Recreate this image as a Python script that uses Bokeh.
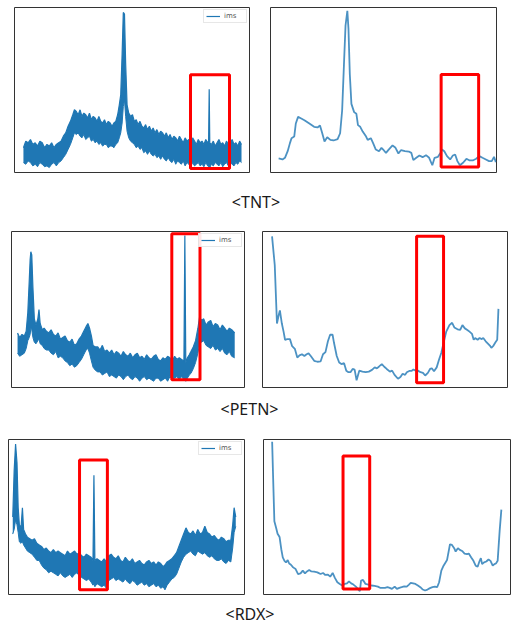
from bokeh.plotting import figure
from bokeh.layouts import column, row
from bokeh.models import Range1d, Legend, LegendItem
from bokeh.core.properties import value
from bokeh.embed import file_html
from bokeh.resources import INLINE

# ---------------- data (frame-relative units 0..100) ----------------
captions = ["<TNT>", "<PETN>", "<RDX>"]
legend_label = "ims"

# TNT - raw ims signal (upper / lower envelope of the noisy band)
tnt_ims_x = [3.8, 4.8, 5.8, 6.8, 7.8, 8.8, 9.8, 10.8, 11.8, 12.8, 13.8, 14.8, 15.8, 16.8, 17.8, 18.8, 19.8,
             20.8, 21.8, 22.8, 23.8, 24.8, 25.5, 26.3, 27.1, 27.9, 28.7, 29.5, 30.3, 31.1, 31.9, 32.7, 33.5,
             34.3, 35.1, 35.9, 36.7, 37.5, 38.3, 39.1, 39.9, 40.7, 41.5, 42.3, 43.1, 43.9, 44.6, 45.2, 45.8,
             46.3, 46.8, 47.3, 47.9, 48.6, 49.4, 50.2, 51, 51.8, 52.6, 53.4, 54.2, 55, 55.8, 56.6, 57.4, 58.2,
             59, 59.8, 60.6, 61.4, 62.2, 63, 63.8, 64.6, 65.4, 66.2, 67, 67.8, 68.6, 69.4, 70.2, 71, 71.8,
             72.6, 73.4, 74.2, 75, 75.8, 76.6, 77.4, 78.2, 79, 79.8, 80.6, 81.4, 82.2, 82.6, 82.85, 83.1,
             83.8, 84.6, 85.4, 86.2, 87, 87.8, 88.6, 89.4, 90.2, 91, 91.8, 92.6, 93.4, 94.2, 95, 95.8, 96.6]
tnt_ims_hi = [15, 19, 18, 20, 17, 18, 16, 19, 18, 15, 17, 16, 18, 15, 17, 18, 19,
              22, 24, 28, 31, 35, 38, 37, 35, 38, 34, 36, 35, 33, 36, 32, 34,
              33, 31, 34, 31, 30, 32, 29, 31, 30, 28, 30, 31, 35, 41, 47, 72,
              97, 96, 66, 41, 36, 34, 35, 31, 32, 29, 31, 28, 27, 29, 26, 28, 25,
              27, 24, 26, 23, 25, 24, 22, 24, 21, 23, 20, 22, 21, 19, 22, 20, 18,
              21, 19, 20, 18, 21, 19, 17, 20, 18, 19, 17, 20, 18, 19, 50.5, 18,
              17, 19, 16, 18, 20, 17, 18, 16, 19, 17, 18, 20, 17, 18, 16, 19, 17]
tnt_ims_lo = [6, 5, 7, 6, 4, 5, 3.5, 6, 5, 3.5, 4, 3, 5, 6, 4, 6, 7,
              9, 11, 14, 17, 21, 24, 23, 24, 22, 21, 23, 20, 21, 22, 19, 20,
              18, 19, 17, 18, 16, 17, 17, 15, 16, 16, 15, 17, 18, 21, 24, 30,
              40, 44, 34, 25, 21, 19, 18, 17, 15, 16, 14, 15, 12, 13, 11, 13, 11,
              10, 11, 9, 10, 8, 10, 8, 7, 9, 7, 6, 8, 5, 7, 6, 5, 7,
              4, 6, 5, 3.5, 6, 4, 5, 6, 4, 5, 3.5, 6, 4, 3.5, 4, 3,
              5, 4, 6, 5, 4, 6, 3.5, 5, 6, 4, 6, 5, 4, 6, 5, 7, 6]
# TNT - smoothed signal
tnt_sm_x = [3.6, 5.3, 6.4, 7.6, 8.6, 9.3, 10.5, 11.2, 12.2, 13.6, 15.0, 17.2, 19.3, 20.8, 21.9, 22.9, 23.9,
            25.1, 26.5, 27.9, 29.7, 30.8, 31.7, 32.5, 33.2, 34.0, 34.5, 35.1, 35.8, 37.0, 38.0, 38.7, 39.7,
            40.8, 42.3, 43.0, 44.4, 45.4, 46.6, 48.0, 49.1, 50.1, 51.1, 52.3, 54.0, 55.2, 56.6, 57.7, 59.5,
            61.2, 62.3, 63.2, 64.5, 65.9, 67.3, 68.8, 70.2, 71.6, 72.6, 74.1, 75.2, 75.9, 76.9, 78.1, 79.5,
            80.7, 81.7, 82.7, 83.8, 85.2, 86.7, 88.1, 89.5, 91.0, 92.4, 93.8, 95.3, 96.7, 97.9, 98.9, 99.7]
tnt_sm_y = [8.5, 7.9, 8.9, 12.9, 17.8, 20.8, 21.8, 29.7, 33.7, 32.7, 31.7, 29.7, 27.7, 27.3, 28.5, 23.8, 18.8,
            21.4, 19.8, 19.4, 20.2, 23.8, 37.6, 65.3, 89.1, 98.0, 87.1, 59.4, 41.6, 36.6, 35.6, 28.7, 27.7,
            24.8, 21.8, 19.8, 20.8, 17.8, 13.9, 12.9, 14.9, 13.5, 11.9, 13.9, 16.4, 15.2, 11.5, 13.5, 12.9,
            12.7, 11.9, 7.5, 8.9, 10.3, 9.3, 10.5, 8.9, 4.4, 8.9, 9.5, 11.9, 13.9, 12.9, 9.9, 7.9,
            10.3, 10.9, 6.9, 4.4, 5.9, 8.3, 7.3, 7.3, 8.3, 9.9, 8.9, 7.9, 6.9, 6.9, 9.5, 6.3]
tnt_ims_box = [74.9, 91.5, 2.4, 59.2]      # x0, x1, y0, y1
tnt_sm_box = [75.5, 92.1, 3.4, 59.4]

# PETN - raw ims signal
petn_ims_x = [2.6, 3.5, 4.5, 5.5, 6.3, 7.0, 7.6, 8.0, 8.3, 8.7, 9.2, 9.8, 10.5, 11.3, 11.8, 12.3, 13.2, 14,
              15, 16, 17, 18, 19, 20, 21, 22, 23, 24, 25, 26, 27, 28, 29, 30, 31, 32, 32.8, 33.5, 34.3, 35,
              36, 37, 38, 39, 40, 41, 42, 43, 44, 45, 46, 47, 48, 49, 50, 51, 52, 53, 54, 55, 56, 57, 58, 59,
              60, 61, 62, 63, 64, 65, 66, 67, 68, 69, 70, 71, 72, 73, 74.0, 74.4, 74.8, 75.5, 76.3, 77, 78,
              79, 80, 80.7, 81.5, 82.5, 83.5, 84.5, 85.5, 86.5, 87.5, 88.5, 89.5, 90.5, 91.5, 92.5, 93.5,
              94.5, 95.8]
petn_ims_hi = [35, 32, 34, 33, 36, 48, 68, 82, 87, 85, 64, 44, 40, 44, 50, 41, 37, 38,
               36, 35, 37, 34, 33, 35, 31, 32, 33, 30, 29, 31, 27, 28, 31, 33, 36, 39, 41, 38, 33, 27,
               26, 26, 24, 27, 23, 24, 22, 24, 21, 23, 22, 20, 23, 21, 20, 22, 19, 21, 22, 19, 20, 18, 21, 19,
               18, 20, 21, 18, 17, 19, 18, 20, 19, 17, 20, 18, 19, 18, 17, 97.5, 16, 19, 21, 23, 26,
               30, 38, 45, 43, 44, 40, 42, 43, 39, 41, 40, 37, 40, 38, 36, 38,
               37, 35]
petn_ims_lo = [22, 20, 21, 22, 25, 30, 32, 34, 38, 37, 32, 29, 28, 30, 31, 28, 27, 25,
               24, 24, 22, 21, 23, 19, 20, 19, 17, 16, 14, 15, 13, 14, 16, 18, 21, 24, 25, 22, 17, 13,
               11, 10, 10, 8, 9, 10, 7, 8, 7, 6, 8, 7, 5, 7, 8, 6, 5, 7, 6, 4, 6, 7, 5, 6,
               5, 4, 6, 6, 4, 5, 6, 4, 7, 5, 6, 7, 5, 7, 5, 5, 4, 6, 8, 9, 12,
               16, 22, 28, 29, 30, 27, 26, 25, 27, 24, 25, 23, 25, 22, 21, 23,
               20, 19]
# PETN - smoothed signal
petn_sm_x = [3.9, 5.0, 5.9, 6.6, 7.1, 7.9, 8.6, 9.2, 10.1, 11.2, 12.1, 13.2, 14.2, 15.1, 16.1, 17.1, 18.0,
             18.8, 19.7, 21.1, 22.4, 23.7, 24.7, 25.7, 26.7, 27.6, 28.6, 29.2, 30.3, 31.3, 32.2, 33.3, 34.2,
             35.1, 35.9, 36.8, 37.6, 38.4, 39.5, 40.8, 42.1, 43.4, 44.7, 45.8, 46.7, 47.6, 48.7, 49.7, 50.7,
             52.0, 52.9, 53.9, 55.3, 56.3, 57.2, 58.2, 58.9, 59.9, 60.8, 61.6, 62.5, 63.4, 64.5, 65.5, 66.4,
             67.5, 68.4, 69.1, 70.0, 71.1, 72.1, 73.0, 73.9, 75.0, 76.3, 77.4, 78.3, 79.6, 80.7, 81.6, 82.6,
             83.6, 84.5, 85.5, 86.2, 86.8, 87.8, 88.6, 89.5, 90.1, 91.1, 91.8, 92.8, 93.4, 94.3, 95.1, 95.8,
             96.3]
petn_sm_y = [96.9, 78.5, 41.0, 46.3, 49.4, 41.0, 35.8, 30.6, 31.0, 31.0, 26.5, 24.8, 19.2, 20.6, 21.3, 20.2,
             21.3, 21.9, 20.2, 17.1, 16.5, 16.7, 21.3, 22.7, 29.6, 33.8, 33.8, 28.5, 20.2, 16.0, 15.0, 15.6,
             10.8, 9.8, 9.8, 11.9, 11.5, 4.6, 10.8, 10.2, 9.8, 10.2, 11.3, 12.9, 12.3, 13.5, 15.0, 13.3, 11.9,
             10.2, 10.8, 8.1, 5.6, 6.7, 8.8, 8.1, 9.8, 10.6, 10.6, 11.5, 10.8, 10.8, 9.8, 9.4, 7.7,
             9.4, 11.9, 12.3, 10.4, 12.9, 18.1, 22.3, 28.5, 35.8, 40.0, 41.5, 38.5, 37.3, 36.9, 40.0, 37.9,
             36.9, 35.8, 34.4, 30.6, 31.7, 30.6, 31.7, 31.0, 31.7, 29.6, 28.5, 26.9, 25.4, 26.9, 29.0, 30.6,
             50.4]
petn_ims_box = [68.8, 80.9, 5.0, 98.5]
petn_sm_box = [62.9, 73.9, 3.1, 96.9]

# RDX - raw ims signal
rdx_ims_x = [1.8, 2.4, 3.0, 3.6, 4.1, 4.6, 5.3, 5.9, 6.4, 7.2, 8, 9, 10, 11, 12, 13, 14, 15, 16, 17, 18, 19,
             20, 21, 22, 23, 24, 25, 26, 27, 28, 29, 30, 31, 32, 33, 34, 35, 35.8, 36.2, 36.6, 37.5, 38.5,
             39.5, 40.5, 41.5, 42.5, 43.5, 44.5, 45.5, 46.5, 47.5, 48.5, 49.5, 50.5, 51.5, 52.5, 53.5, 54.5,
             55.5, 56.5, 57.5, 58.5, 59.5, 60.5, 61.5, 62.5, 63.5, 64.5, 65.5, 66.3, 67.2, 68.2, 69.2, 70.2,
             71.2, 72.2, 73.2, 74.2, 75.2, 76.2, 77.2, 78.2, 79.2, 80.2, 81.2, 82.2, 83.2, 84.2, 85.2, 86.2,
             87.2, 88.2, 89.2, 90.2, 91.2, 92.2, 93.2, 94.2, 95.0, 95.6, 96.3]
rdx_ims_hi = [50, 80, 97, 85, 56, 45, 43, 56, 42, 39, 37, 36, 35, 36, 33, 32, 31, 29, 30, 28, 27, 29,
              27, 28, 27, 26, 25, 28, 26, 27, 28, 26, 27, 25, 24, 26, 25, 24, 22, 77, 22, 23, 22,
              21, 23, 21, 25, 26, 24, 23, 25, 22, 21, 24, 22, 21, 23, 20, 21,
              22, 20, 19, 21, 22, 20, 21, 19, 21, 20, 18, 19, 21, 22, 23, 25,
              27, 31, 35, 39, 43, 40, 39, 41, 38, 42, 39, 40, 44, 40, 39, 37,
              38, 36, 35, 37, 36, 34, 35, 35, 45, 56, 50]
rdx_ims_lo = [39, 42, 48, 45, 40, 34, 33, 34, 32, 30, 28, 27, 26, 24, 22, 22, 19, 17, 16, 14, 15, 14,
              13, 12, 14, 12, 11, 12, 13, 11, 13, 14, 12, 11, 10, 9, 10, 8, 6, 7, 5, 7, 6,
              5, 6, 4, 9, 10, 11, 9, 10, 9, 8, 10, 8, 7, 9, 8, 6,
              7, 8, 6, 7, 5, 6, 7, 5, 6, 4, 5, 3, 6, 8, 10, 11,
              13, 17, 21, 24, 26, 27, 28, 26, 25, 28, 27, 26, 27, 25, 24, 25,
              23, 22, 22, 23, 21, 20, 22, 21, 30, 40, 44]
# RDX - smoothed signal
rdx_sm_x = [3.5, 3.9, 4.4, 5.1, 5.7, 6.5, 7.2, 7.8, 8.5, 9.1, 9.8, 10.4, 11.1, 12.0, 13.0, 14.0, 15.0, 15.9,
            16.8, 17.6, 18.5, 19.4, 20.5, 21.8, 23.1, 24.1, 25.0, 26.1, 27.0, 28.0, 28.9, 29.9, 30.9, 31.9,
            32.9, 33.8, 34.6, 35.5, 36.4, 37.4, 38.2, 39.0, 39.5, 40.3, 41.3, 42.4, 43.7, 45.0, 46.3, 47.2,
            48.1, 49.2, 50.2, 51.1, 52.0, 53.1, 54.0, 55.0, 55.9, 57.0, 58.0, 58.9, 59.6, 60.6, 61.5, 62.5,
            63.5, 64.5, 65.4, 66.4, 67.4, 68.4, 69.4, 70.3, 71.1, 72.0, 72.9, 73.7, 74.3, 75.0, 75.5, 76.3,
            77.2, 77.8, 78.7, 79.5, 80.4, 81.4, 82.4, 83.1, 84.1, 85.0, 85.9, 86.7, 87.4, 88.0, 88.5, 89.3,
            90.2, 91.1, 91.9, 92.8, 93.5, 94.1, 94.8, 95.6, 96.3]
rdx_sm_y = [98.5, 75.1, 47.3, 43.1, 39.2, 37.1, 29.2, 23.9, 21.7, 20.7, 22.2, 20.0, 19.2, 17.5, 16.4, 13.2,
            13.6, 15.4, 13.6, 14.9, 15.8, 14.9, 14.7, 14.3, 13.2, 13.9, 12.6, 12.8, 11.5, 13.9, 10.7, 7.9,
            6.8, 5.8, 6.8, 7.2, 8.5, 7.2, 6.4, 5.1, 3.6, 2.1, 9.0, 9.4, 6.8, 6.4, 5.8, 5.5, 5.1, 4.3,
            4.3, 4.3, 4.7, 4.3, 3.6, 5.1, 3.6, 4.3, 4.7, 5.3, 5.1, 6.4, 7.5, 7.2, 6.8, 5.8,
            4.7, 3.2, 2.6, 3.2, 4.1, 4.7, 5.1, 4.7, 7.9, 15.4, 18.6, 20.7, 22.2, 28.1, 32.4, 32.0,
            29.9, 27.7, 29.9, 28.8, 28.1, 26.4, 26.0, 26.4, 23.9, 21.7, 18.6, 17.9, 21.3, 23.5, 19.6, 20.7,
            21.3, 22.6, 21.7, 18.6, 19.6, 20.0, 21.7, 40.9, 54.8]
rdx_ims_box = [30.1, 41.9, 3.1, 86.8]
rdx_sm_box = [32.2, 43.0, 3.6, 89.3]

# ---------------- styling ----------------
IMS_BLUE = "#1f77b4"
BOX_RED = "#ff0000"
FRAME = "#333333"


def base_fig(width, height, bl, br, bt, bb):
    p = figure(width=width, height=height, x_range=Range1d(0, 100), y_range=Range1d(0, 100),
               x_axis_type=None, y_axis_type=None, toolbar_location=None, output_backend="svg",
               title=None, min_border_left=bl, min_border_right=br, min_border_top=bt,
               min_border_bottom=bb)
    p.outline_line_color = FRAME
    p.outline_line_width = 1
    p.background_fill_color = "white"
    p.border_fill_color = "white"
    return p


def add_box(p, box):
    p.quad(left=[box[0]], right=[box[1]], bottom=[box[2]], top=[box[3]],
           fill_color=None, line_color=BOX_RED, line_width=3)


def ims_panel(x, hi, lo, box, width, height, bl, br, bt, bb):
    p = base_fig(width, height, bl, br, bt, bb)
    p.varea(x=x, y1=lo, y2=hi, fill_color=IMS_BLUE, fill_alpha=1.0)
    top_r = p.line(x, hi, line_color=IMS_BLUE, line_width=1.2)
    p.line(x, lo, line_color=IMS_BLUE, line_width=1.0)
    add_box(p, box)
    legend = Legend(items=[LegendItem(label=legend_label, renderers=[top_r])],
                    location="top_right", margin=2, padding=2, spacing=0,
                    glyph_width=14, glyph_height=8, label_standoff=4,
                    label_text_font_size="7px", label_text_color="#555555",
                    label_text_font="DejaVu Sans", label_height=8,
                    border_line_color="#d0d0d0", border_line_width=1,
                    background_fill_alpha=0.9)
    p.add_layout(legend)
    return p


def smooth_panel(x, y, box, width, height, bl, br, bt, bb):
    p = base_fig(width, height, bl, br, bt, bb)
    p.line(x, y, line_color=IMS_BLUE, line_width=1.8, line_alpha=0.8)
    add_box(p, box)
    return p


def caption_fig(text, width, height, ypos):
    p = figure(width=width, height=height, x_range=Range1d(0, 1), y_range=Range1d(0, 1),
               x_axis_type=None, y_axis_type=None, toolbar_location=None, output_backend="svg",
               title=None, min_border=0)
    p.outline_line_color = None
    p.text(x=[0.5], y=[ypos], text=[text], text_font=value("Noto Sans"),
           text_font_size=value("16px"), text_align="center", text_baseline="middle",
           text_color="#1a1a1a")
    return p


# row 1 : TNT
r1l = ims_panel(tnt_ims_x, tnt_ims_hi, tnt_ims_lo, tnt_ims_box, 260, 174, 14, 11, 7, 2)
r1r = smooth_panel(tnt_sm_x, tnt_sm_y, tnt_sm_box, 251, 174, 10, 15, 7, 2)
c1 = caption_fig(captions[0], 511, 54, 0.5)

# row 2 : PETN
r2l = ims_panel(petn_ims_x, petn_ims_hi, petn_ims_lo, petn_ims_box, 254, 160, 11, 10, 3, 1)
r2r = smooth_panel(petn_sm_x, petn_sm_y, petn_sm_box, 257, 160, 8, 4, 3, 1)
c2 = caption_fig(captions[1], 498, 41, 0.5)

# row 3 : RDX
r3l = ims_panel(rdx_ims_x, rdx_ims_hi, rdx_ims_lo, rdx_ims_box, 254, 166, 8, 10, 10, 1)
r3r = smooth_panel(rdx_sm_x, rdx_sm_y, rdx_sm_box, 257, 166, 9, 1, 10, 1)
c3 = caption_fig(captions[2], 499, 33, 0.45)

layout = column(row(r1l, r1r), c1, row(r2l, r2r), c2, row(r3l, r3r), c3)

open("out.html", "w").write(file_html(layout, INLINE))
